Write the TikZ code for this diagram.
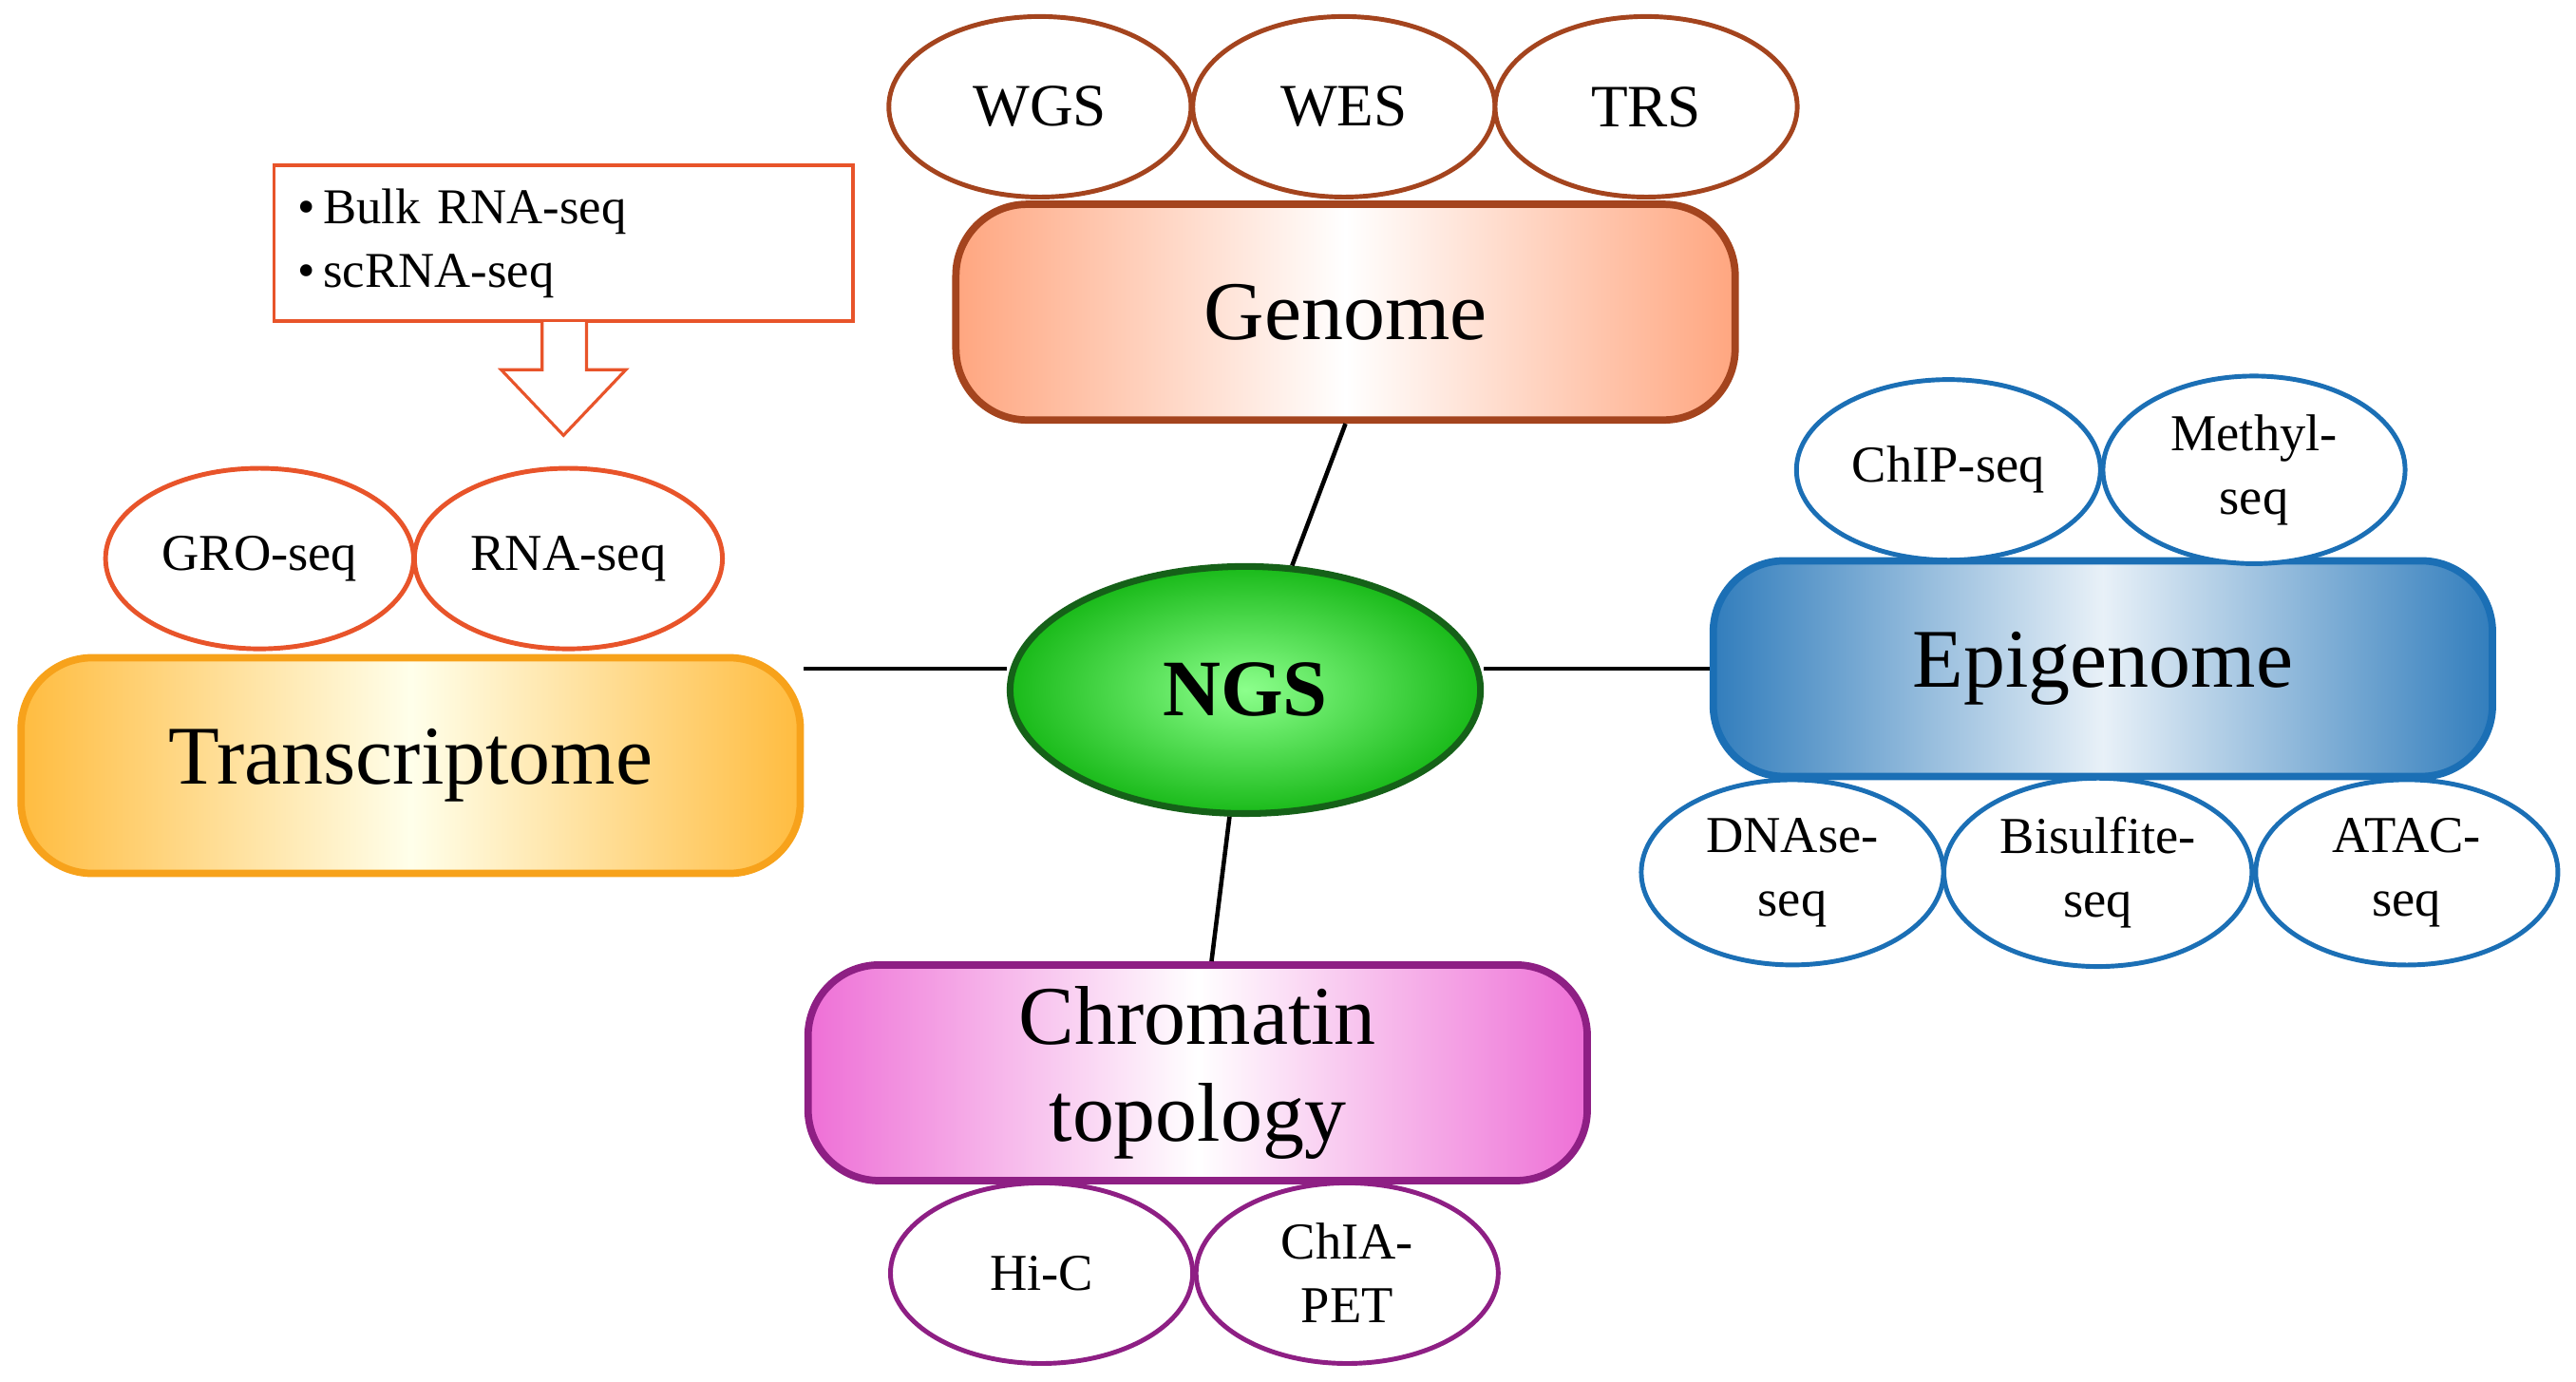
\documentclass[tikz,border=0pt]{standalone}
\usepackage{fontspec}
\setmainfont{Liberation Serif}
\usetikzlibrary{shapes.geometric}
\definecolor{brn}{HTML}{A4441E}
\definecolor{orn}{HTML}{E8542A}
\definecolor{ylw}{HTML}{F7A21B}
\definecolor{blu}{HTML}{1B6FB5}
\definecolor{pur}{HTML}{8E1F84}
\definecolor{grn}{HTML}{1E8A22}
\definecolor{pnk}{HTML}{EE6FD6}
\begin{document}
\begin{tikzpicture}[x=0.01729cm,y=-0.01729cm,
  ell/.style={ellipse,draw,line width=1.4pt,fill=white,minimum width=3.18cm,minimum height=1.9cm,font=\fontsize{18}{18}\selectfont,align=center},
  ell2/.style={ell,font=\fontsize{15.5}{19}\selectfont},
  box/.style={rounded corners=0.75cm,line width=2.2pt,minimum width=8.2cm,minimum height=2.27cm,font=\fontsize{25}{26}\selectfont,align=center},
  link/.style={line width=1.3pt}]
\useasboundingbox (0,0) rectangle (1568,841);
% Genome
\node[box,draw=brn,left color=orange!60!red!50,right color=orange!60!red!50,middle color=white] (genome) at (819,190) {Genome};
\node[ell,draw=brn] (wgs) at (633,65) {WGS};
\node[ell,draw=brn] (wes) at (818,65) {WES};
\node[ell,draw=brn] (trs) at (1002,65) {TRS};
% NGS
\node[ellipse,draw=grn!70!black,line width=2pt,inner color=green!45,outer color=green!70!black!90,minimum width=4.95cm,minimum height=2.6cm,font=\fontsize{24}{24}\selectfont\bfseries] (ngs) at (758,420) {NGS};
% Transcriptome
\node[box,draw=ylw,left color=yellow!30!orange!75,right color=yellow!30!orange!75,middle color=yellow!8] (trans) at (250,466) {Transcriptome};
\node[ell,draw=orn,ell2] (gro) at (158,340) {GRO-seq};
\node[ell,draw=orn,ell2] (rna) at (346,340) {RNA-seq};
% callout
\node[draw=orn,line width=1pt,minimum width=6.09cm,minimum height=1.64cm,text width=5.6cm,align=left,font=\fontsize{15}{19}\selectfont] (call) at (343,148)
  {\textbullet\,Bulk RNA-seq\\ \textbullet\,scRNA-seq};
\draw[draw=orn,line width=0.9pt,fill=white] (330,196) -- (330,225) -- (305,225) -- (343,265) -- (381,225) -- (357,225) -- (357,196);
% Epigenome
\node[box,draw=blu,left color=blu!90,right color=blu!90,middle color=blu!10] (epi) at (1280,407) {Epigenome};
\node[ell,draw=blu,ell2] (chip) at (1186,286) {ChIP-seq};
\node[ell,draw=blu,ell2] (meth) at (1372,286) {Methyl-\\seq};
\node[ell,draw=blu,ell2] (dnase) at (1091,531) {DNAse-\\seq};
\node[ell,draw=blu,ell2] (bis) at (1277,531) {Bisulfite-\\seq};
\node[ell,draw=blu,ell2] (atac) at (1465,531) {ATAC-\\seq};
% Chromatin
\node[box,draw=pur,left color=pnk,right color=pnk,middle color=white,font=\fontsize{25}{29}\selectfont] (chrom) at (729,653) {Chromatin\\topology};
\node[ell,draw=pur,ell2] (hic) at (634,775) {Hi-C};
\node[ell,draw=pur,ell2] (chia) at (820,775) {ChIA-\\PET};
% links
\draw[link] (genome.south) -- (ngs);
\draw[link] (ngs) -- (chrom);
\draw[link] (ngs.west) ++(0,-13) coordinate (nl) -- (nl -| trans.east);
\draw[link] (ngs.east) ++(0,-13) coordinate (nr) -- (nr -| epi.west);
\end{tikzpicture}
\end{document}
